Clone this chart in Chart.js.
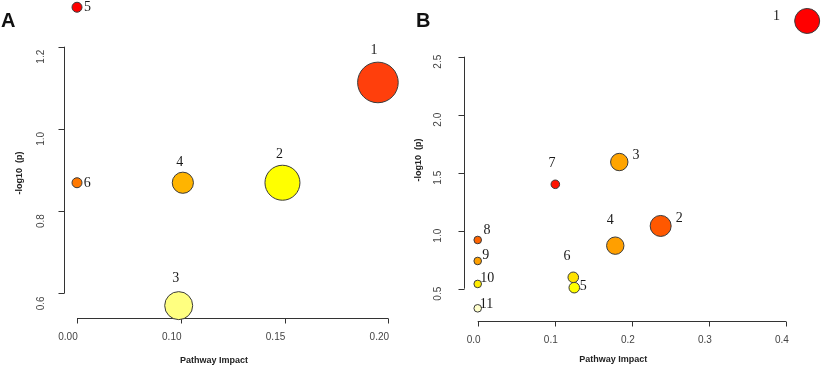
<!DOCTYPE html>
<html lang="en">
<head>
  <meta charset="UTF-8">
  <title>Pathway analysis</title>
  <script src="https://cdn.jsdelivr.net/npm/chart.js"></script>
  <style>
    body { margin: 0; background: #fff; }
    canvas { position: absolute; top: 0; }
    #chartA { left: 0; }
    #chartB { left: 411px; }
  </style>
</head>
<body>
  <canvas id="chartA" width="411" height="367"></canvas>
  <canvas id="chartB" width="412" height="367"></canvas>

  <script>
    // ---- panel A ----
    const namesA = ['1', '2', '3', '4', '5', '6'];
    // first x tick is printed "0.00" in the figure although it sits one step left of 0.10
    const impactA = [0.195, 0.149, 0.099, 0.101, 0.05, 0.05];
    const logpA = [1.113, 0.869, 0.570, 0.869, 1.296, 0.869];
    const sizeA = [20.3, 17.5, 14, 10.6, 5, 5];
    const xTicksA = [0.05, 0.10, 0.15, 0.20];
    const xTickLabelsA = ['0.00', '0.10', '0.15', '0.20'];
    const yTicksA = [0.6, 0.8, 1.0, 1.2];
    const yTickLabelsA = ['0.6', '0.8', '1.0', '1.2'];

    // ---- panel B ----
    const namesB = ['1', '2', '3', '4', '5', '6', '7', '8', '9', '10', '11'];
    const impactB = [0.4275, 0.2374, 0.1837, 0.1785, 0.1253, 0.124, 0.1007, 0, 0, 0, 0];
    const logpB = [2.808, 1.041, 1.592, 0.871, 0.509, 0.598, 1.400, 0.920, 0.739, 0.541, 0.331];
    const sizeB = [12.5, 10.5, 8.7, 8.7, 5.3, 5.3, 4.3, 3.8, 3.8, 3.8, 3.8];
    const xTicksB = [0, 0.1, 0.2, 0.3, 0.4];
    const xTickLabelsB = ['0.0', '0.1', '0.2', '0.3', '0.4'];
    const yTicksB = [0.5, 1.0, 1.5, 2.0, 2.5];
    const yTickLabelsB = ['0.5', '1.0', '1.5', '2.0', '2.5'];

    // colours (p-value heat scale) and label offsets
    const colorsA = ['#ff3f0c', '#ffff00', '#ffff80', '#ffb400', '#ff0000', '#ff7800'];
    const colorsB = ['#ff0000', '#ff5800', '#ffa400', '#ff9f00', '#ffff00', '#ffe200',
                     '#ff1400', '#ff6400', '#ffa000', '#ffec00', '#ffffcc'];
    const offsetsA = [[-4, -32], [-3, -28], [-3, -27], [-3, -20], [10.5, 0], [10.3, 0.7]];
    const offsetsB = [[-30.6, -5], [18.6, -7.7], [16.7, -7], [-5, -25], [9, -1.7], [-6.3, -20.6],
                      [-3.3, -21], [9.3, -9.3], [8, -6], [9.5, -5.7], [8.8, -4.3]];

    const TICK_FONT = '10px "Liberation Sans", Arial, sans-serif';
    const TITLE_FONT = 'bold 9px "Liberation Sans", Arial, sans-serif';

    // R-style axes: lines only across the tick range, detached from the points
    const rAxes = {
      id: 'rAxes',
      beforeDatasetsDraw(chart, args, o) {
        const ctx = chart.ctx;
        const xs = chart.scales.x, ys = chart.scales.y;
        ctx.save();
        ctx.strokeStyle = '#333';
        ctx.lineWidth = 1;
        ctx.beginPath();
        const xa = xs.getPixelForValue(o.xTicks[0]);
        const xb = xs.getPixelForValue(o.xTicks[o.xTicks.length - 1]);
        ctx.moveTo(xa, o.xAxisAt);
        ctx.lineTo(xb, o.xAxisAt);
        o.xTicks.forEach(v => {
          const p = Math.round(xs.getPixelForValue(v)) + 0.5;
          ctx.moveTo(p, o.xAxisAt);
          ctx.lineTo(p, o.xAxisAt + 5);
        });
        const ya = ys.getPixelForValue(o.yTicks[0]);
        const yb = ys.getPixelForValue(o.yTicks[o.yTicks.length - 1]);
        ctx.moveTo(o.yAxisAt, ya);
        ctx.lineTo(o.yAxisAt, yb);
        o.yTicks.forEach(v => {
          const p = Math.round(ys.getPixelForValue(v)) + 0.5;
          ctx.moveTo(o.yAxisAt, p);
          ctx.lineTo(o.yAxisAt - 6, p);
        });
        ctx.stroke();

        // tick labels sit a little off their ticks in the original figure
        ctx.fillStyle = '#444';
        ctx.font = TICK_FONT;
        ctx.textAlign = 'center';
        ctx.textBaseline = 'middle';
        o.xTicks.forEach((v, i) => {
          ctx.fillText(o.xLabels[i], xs.getPixelForValue(v) + o.xLabelShift, o.xLabelAt);
        });
        o.yTicks.forEach((v, i) => {
          ctx.save();
          ctx.translate(o.yLabelAt, ys.getPixelForValue(v) + o.yLabelShift);
          ctx.rotate(-Math.PI / 2);
          ctx.fillText(o.yLabels[i], 0, 0);
          ctx.restore();
        });

        ctx.fillStyle = '#222';
        ctx.font = TITLE_FONT;
        ctx.fillText('Pathway Impact', o.xTitle[0], o.xTitle[1]);
        ctx.save();
        ctx.translate(o.yTitle[0], o.yTitle[1]);
        ctx.rotate(-Math.PI / 2);
        ctx.fillText('-log10  (p)', 0, 0);
        ctx.restore();

        ctx.font = 'bold 20px "Liberation Sans", Arial, sans-serif';
        ctx.fillStyle = '#111';
        ctx.textAlign = 'left';
        ctx.textBaseline = 'alphabetic';
        ctx.fillText(o.tag, o.tagAt[0], o.tagAt[1]);
        ctx.restore();
      },
      afterDatasetsDraw(chart, args, o) {
        const ctx = chart.ctx;
        const meta = chart.getDatasetMeta(0);
        ctx.save();
        ctx.fillStyle = '#1a1a1a';
        ctx.font = '14px "Liberation Serif", "Times New Roman", serif';
        ctx.textAlign = 'center';
        ctx.textBaseline = 'middle';
        meta.data.forEach((pt, i) => {
          const off = o.offsets[i];
          ctx.fillText(o.names[i], pt.x + off[0], pt.y + off[1]);
        });
        ctx.restore();
      }
    };

    function makeChart(id, xs, ys, rs, colors, xRange, yRange, padding, axisOpts) {
      return new Chart(document.getElementById(id), {
        type: 'bubble',
        data: {
          datasets: [{
            data: xs.map((x, i) => ({ x: x, y: ys[i], r: rs[i] })),
            backgroundColor: colors,
            borderColor: '#3a3a3a',
            borderWidth: 1,
            clip: false
          }]
        },
        options: {
          responsive: false,
          animation: false,
          events: [],
          layout: { autoPadding: false, padding: padding },
          plugins: {
            legend: { display: false },
            tooltip: { enabled: false },
            rAxes: axisOpts
          },
          scales: {
            x: { type: 'linear', min: xRange[0], max: xRange[1], display: false },
            y: { type: 'linear', min: yRange[0], max: yRange[1], display: false }
          }
        },
        plugins: [rAxes]
      });
    }

    makeChart('chartA', impactA, logpA, sizeA, colorsA, [0.04, 0.21], [0.5, 1.3],
      { left: 56.25, right: 1.95, top: 5.6, bottom: 32.6 },
      {
        xTicks: xTicksA, xLabels: xTickLabelsA, yTicks: yTicksA, yLabels: yTickLabelsA,
        xAxisAt: 318.5, yAxisAt: 64.5, xLabelAt: 337, yLabelAt: 41,
        xLabelShift: -9, yLabelShift: 10,
        xTitle: [214, 360.5], yTitle: [20, 173],
        tag: 'A', tagAt: [1, 27],
        names: namesA, offsets: offsetsA
      });

    makeChart('chartB', impactB, logpB, sizeB, colorsB, [-0.02, 0.44], [0.2, 2.9],
      { left: 51.3, right: 6.2, top: 10.3, bottom: 43.5 },
      {
        xTicks: xTicksB, xLabels: xTickLabelsB, yTicks: yTicksB, yLabels: yTickLabelsB,
        xAxisAt: 321.5, yAxisAt: 53.5, xLabelAt: 340, yLabelAt: 27.3,
        xLabelShift: -4, yLabelShift: 5,
        xTitle: [202.3, 360], yTitle: [7.3, 160],
        tag: 'B', tagAt: [5, 27],
        names: namesB, offsets: offsetsB
      });
  </script>
</body>
</html>
